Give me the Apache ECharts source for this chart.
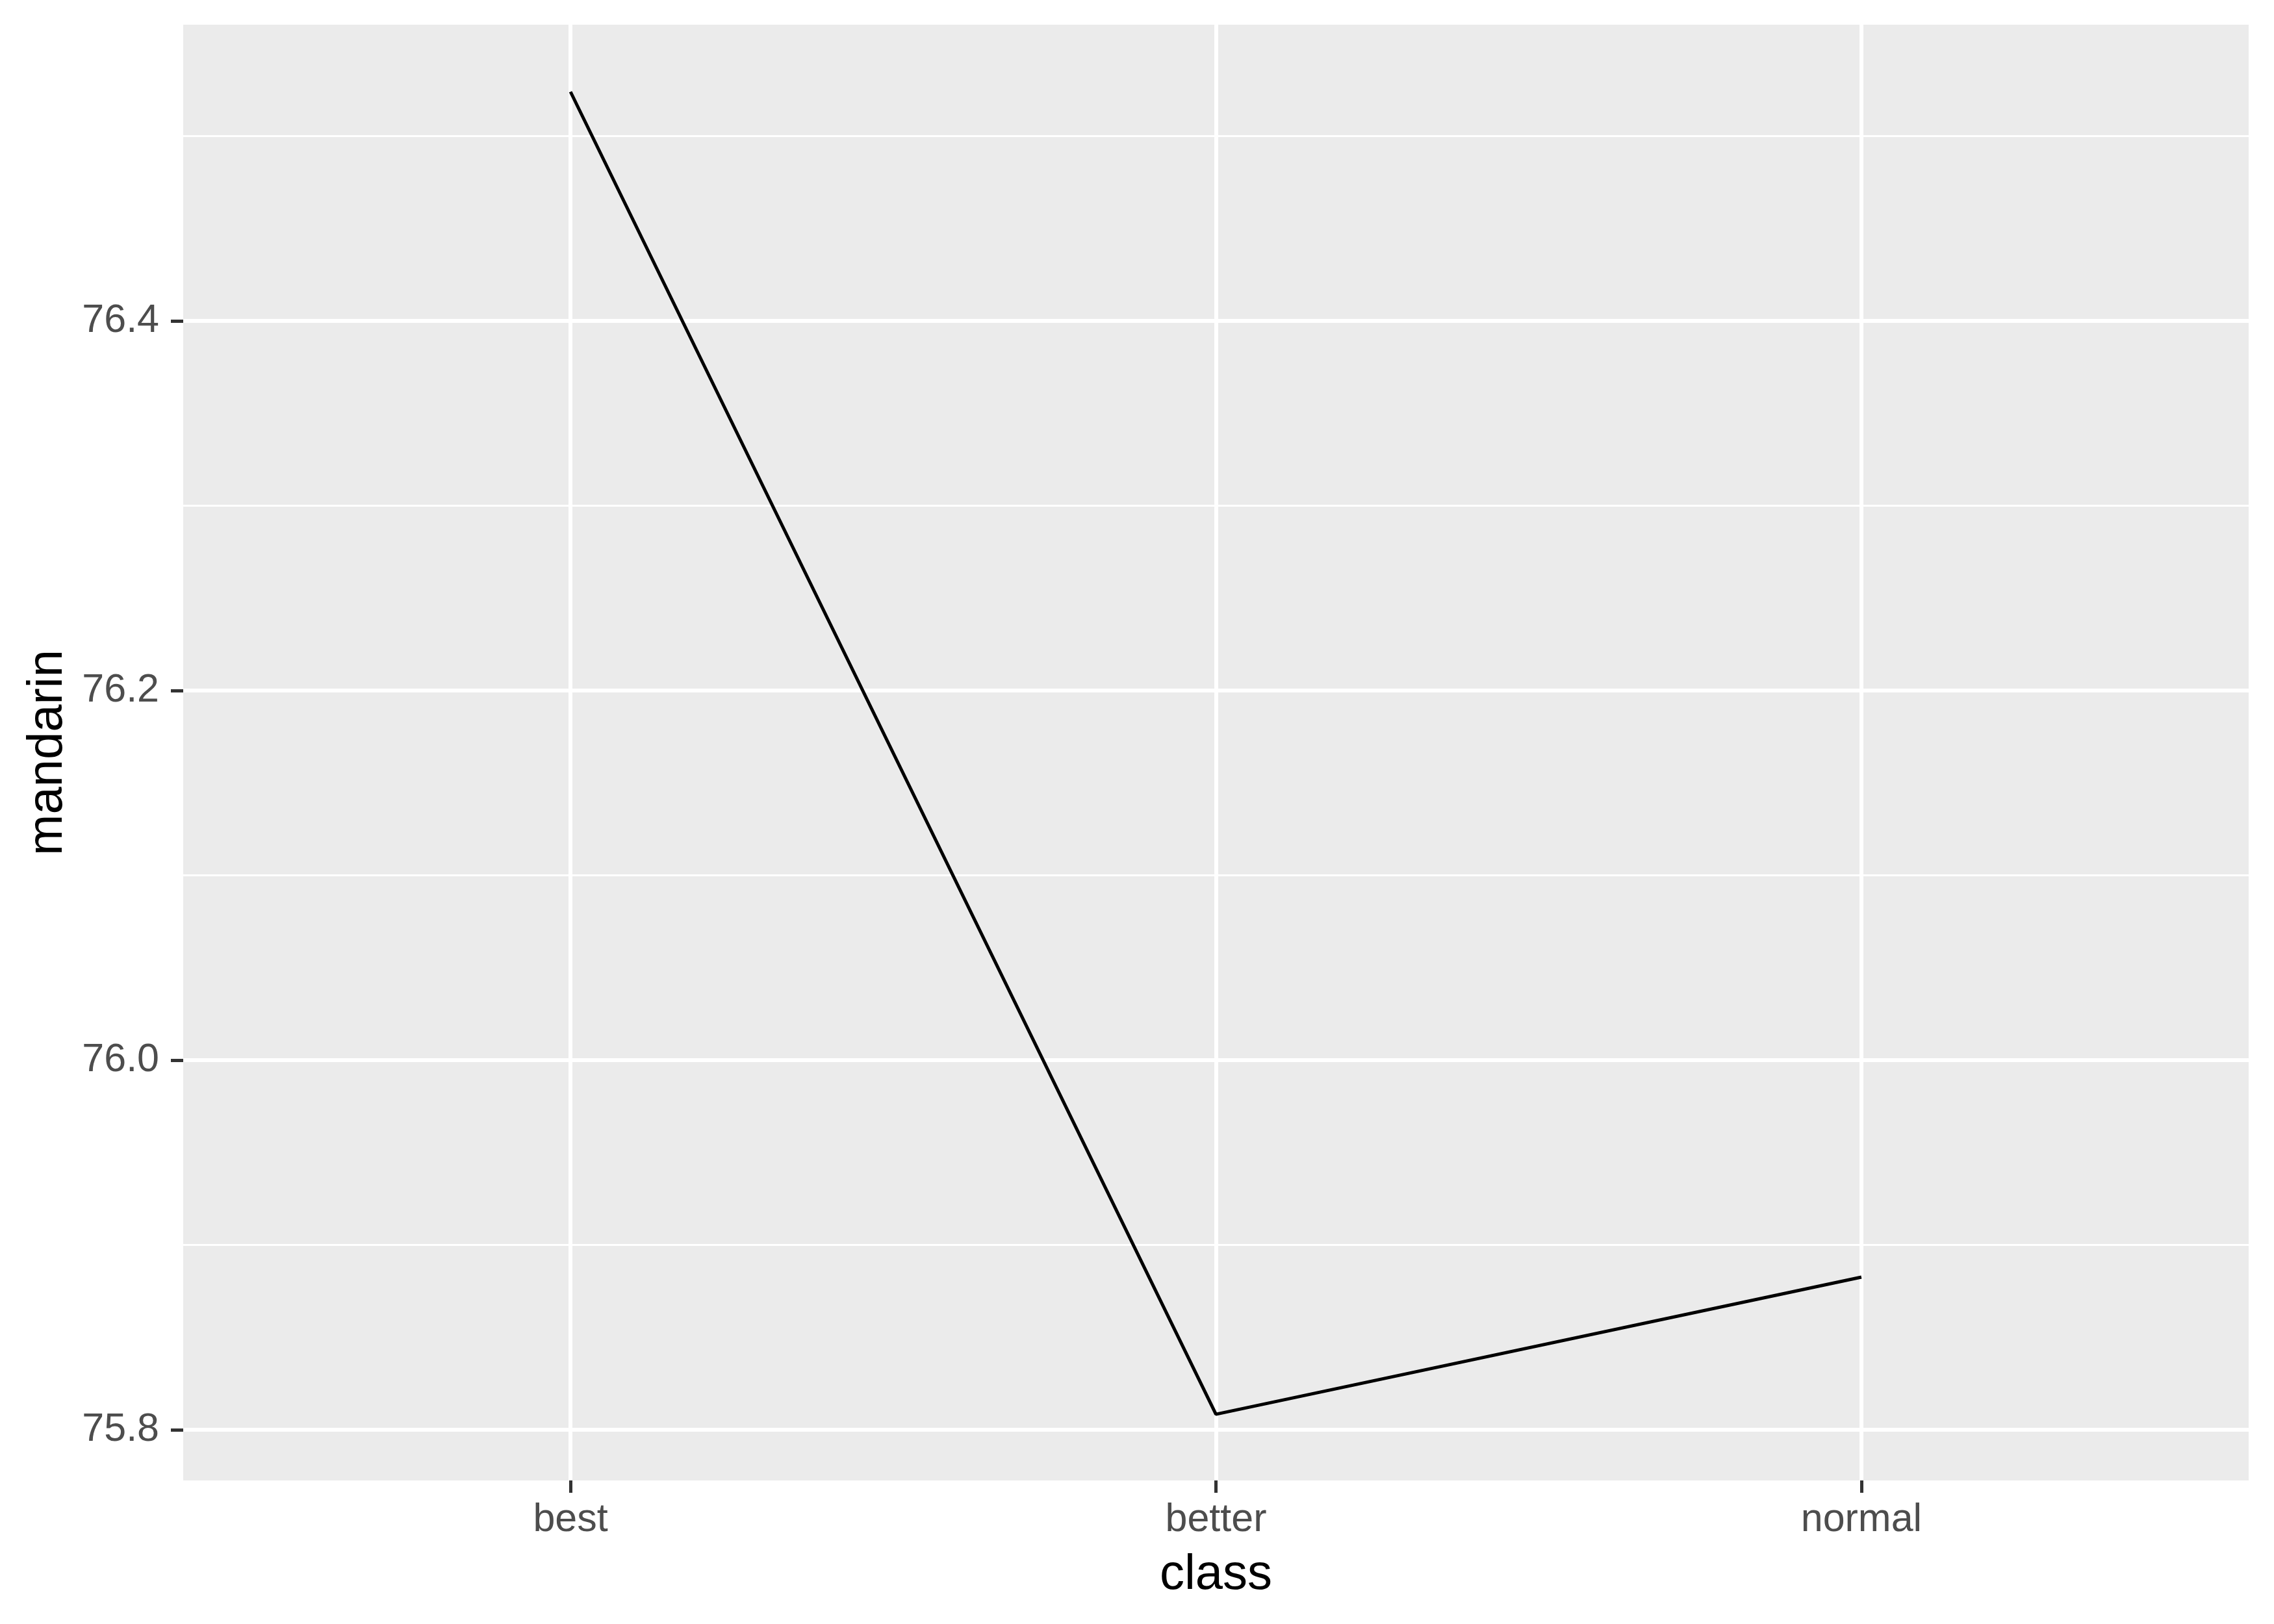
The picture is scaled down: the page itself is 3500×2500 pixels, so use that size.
<!DOCTYPE html>
<html>
<head>
<meta charset="utf-8">
<script src="https://cdn.jsdelivr.net/npm/echarts@6/dist/echarts.min.js"></script>
<style>html,body{margin:0;padding:0;background:#fff}#c{width:3500px;height:2500px}</style>
</head>
<body>
<div id="c"></div>
<script>
const categories = ['best', 'better', 'normal'];
const mandarin = [76.524, 75.8084, 75.8826];
const yMajorTicks = [75.8, 76.0, 76.2, 76.4];
const yMinorTicks = [75.9, 76.1, 76.3, 76.5];
const xPositions = [1, 2, 3];

const yMin = 75.7726, yMax = 76.5603;
const chart = echarts.init(document.getElementById('c'), null, {renderer: 'canvas'});
const font = 'Liberation Sans, Arial, sans-serif';
chart.setOption({
  animation: false,
  backgroundColor: '#ffffff',
  grid: {left: 282, right: 39, top: 38, bottom: 221, show: true, backgroundColor: '#EBEBEB', borderWidth: 0},
  xAxis: {
    type: 'value', min: 0.4, max: 3.6,
    name: 'class', nameLocation: 'middle', nameGap: 108,
    nameTextStyle: {color: '#000', fontSize: 76, fontFamily: font},
    axisLine: {show: false},
    axisTick: {show: true, customValues: xPositions, length: 19, lineStyle: {color: '#333333', width: 5}},
    axisLabel: {customValues: xPositions, margin: 31, color: '#4D4D4D', fontSize: 61, fontFamily: font,
      formatter: v => categories[Math.round(v) - 1] || ''},
    splitLine: {show: true, lineStyle: {color: '#ffffff', width: 6}}
  },
  yAxis: [{
    type: 'value', min: yMin, max: yMax,
    name: 'mandarin', nameLocation: 'middle', nameGap: 170, nameRotate: 90,
    nameTextStyle: {color: '#000', fontSize: 76, fontFamily: font},
    axisLine: {show: false},
    axisTick: {show: true, customValues: yMajorTicks, length: 19, lineStyle: {color: '#333333', width: 5}},
    axisLabel: {customValues: yMajorTicks, margin: 37, color: '#4D4D4D', fontSize: 61, fontFamily: font,
      formatter: v => v.toFixed(1)},
    splitLine: {show: true, lineStyle: {color: '#ffffff', width: 6}},
    z: 1
  }, {
    type: 'value', min: yMin, max: yMax, position: 'left',
    axisLine: {show: false}, axisLabel: {show: false},
    axisTick: {show: false, customValues: yMinorTicks},
    splitLine: {show: true, lineStyle: {color: '#ffffff', width: 3}}
  }],
  series: [{
    type: 'line',
    data: xPositions.map((x, i) => [x, mandarin[i]]),
    showSymbol: false, symbol: 'none',
    lineStyle: {color: '#000000', width: 5},
    z: 5
  }]
});
</script>
</body>
</html>
